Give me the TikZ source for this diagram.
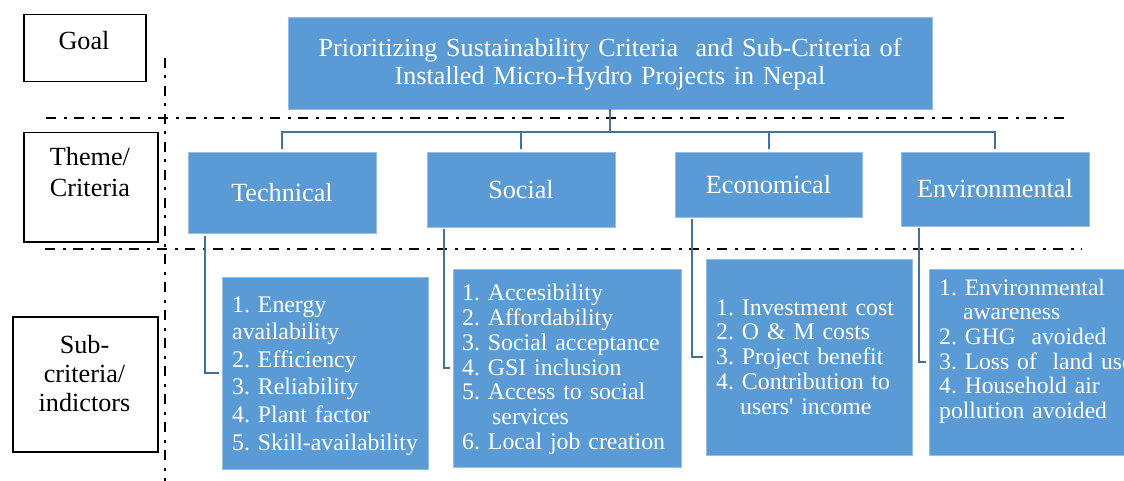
\documentclass[tikz,border=0pt]{standalone}
\usepackage{fontspec}
\setmainfont{Liberation Serif}
\frenchspacing
\definecolor{boxblue}{RGB}{91,155,213}
\definecolor{boxedge}{RGB}{150,190,228}
\definecolor{connblue}{RGB}{65,113,156}
\begin{document}
\begin{tikzpicture}[x=1pt,y=-1pt,
  bluebox/.style={rectangle, fill=boxblue, draw=boxedge, line width=0.8pt, inner sep=0pt, outer sep=0pt, anchor=north west, text=white},
  crit/.style={bluebox, font=\fontsize{26.2}{28}\selectfont},
  lblbox/.style={rectangle, draw=black, line width=1.5pt, inner sep=0pt, anchor=north west},
  lbltxt/.style={anchor=base, text width=140pt, align=center, inner sep=0pt},
  subtxt/.style={anchor=base west, text width=260pt, align=left, inner sep=0pt, text=white},
  conn/.style={draw=connblue, line width=2pt},
  sepline/.style={draw=black, line width=2.7pt, dash pattern=on 10pt off 7.5pt on 3pt off 7.5pt}]
\fill[white] (0,0) rectangle (1124,481);
\useasboundingbox (0,0) rectangle (1124,481);
% separator lines
\draw[sepline] (46,118) -- (1066,118);
\draw[sepline] (45,249) -- (1082,249);
\draw[sepline] (165,58) -- (165,481);
% level labels
\node[lblbox, minimum width=122pt, minimum height=67pt] (goal) at (23,14) {};
\node[lbltxt, font=\fontsize{26.2}{29}\selectfont] (goaltxt) at (84,50) {Goal};
\node[lblbox, minimum width=134pt, minimum height=109pt] (theme) at (23,132) {};
\node[lbltxt, font=\fontsize{26.2}{31}\selectfont] (themetxt) at (90,166) {Theme/\\Criteria};
\node[lblbox, minimum width=145pt, minimum height=135pt] (subl) at (12,316) {};
\node[lbltxt, font=\fontsize{26.2}{29.3}\selectfont] (subltxt) at (84.5,353) {Sub-\\criteria/\\indictors};
% goal box
\node[bluebox, minimum width=644pt, minimum height=92pt] (title) at (288,17) {};
\node[anchor=base, text width=640pt, align=center, inner sep=0pt, text=white, font=\fontsize{26.1}{28}\selectfont] (titletxt) at (610,57)
  {Prioritizing Sustainability Criteria\ \ and Sub-Criteria of\\Installed Micro-Hydro Projects in Nepal};
% criteria
\node[crit, minimum width=188pt, minimum height=81pt] (tech) at (188,152) {Technical};
\node[crit, minimum width=188pt, minimum height=75pt] (soc) at (427,152) {Social};
\node[crit, minimum width=187pt, minimum height=65pt] (econ) at (675,152) {Economical};
\node[crit, minimum width=188pt, minimum height=74pt] (env) at (901,152) {Environmental};
% sub-criteria boxes
\node[bluebox, minimum width=206pt, minimum height=192pt] (tsub) at (222,277) {};
\node[bluebox, minimum width=228pt, minimum height=198pt] (ssub) at (453,269) {};
\node[bluebox, minimum width=206pt, minimum height=196pt] (esub) at (706,259) {};
\node[bluebox, minimum width=200pt, minimum height=186pt] (envsub) at (929,269) {};
\node[subtxt, font=\fontsize{23.8}{27.6}\selectfont] (ttxt) at (232,312)
  {1. Energy\\availability\\2. Efficiency\\3. Reliability\\4. Plant factor\\5. Skill-availability};
\node[subtxt, font=\fontsize{23.8}{24.8}\selectfont] (stxt) at (462,300.7)
  {1. Accesibility\\2. Affordability\\3. Social acceptance\\4. GSI inclusion\\5. Access to social\\\hspace*{30pt}services\\6. Local job creation};
\node[subtxt, font=\fontsize{23.8}{24.8}\selectfont] (etxt) at (716,315)
  {1. Investment cost\\2. O \& M costs\\3. Project benefit\\4. Contribution to\\\hspace*{24pt}users\textquotesingle\ income};
\node[subtxt, font=\fontsize{23.6}{24.7}\selectfont] (envtxt) at (939,295)
  {1. Environmental\\\hspace*{24pt}awareness\\2. GHG\ \ avoided\\3. Loss of\ \ land use\\4. Household air\\pollution avoided};
% connectors
\coordinate (bus) at (610,132);
\draw[conn] (title.south) -- (bus);
\draw[conn] ([yshift=3pt]tech.north) |- (bus) -| ([yshift=3pt]env.north);
\draw[conn] ([yshift=3pt]soc.north) -- (soc.north |- bus);
\draw[conn] ([yshift=3pt]econ.north) -- (econ.north |- bus);
\draw[conn] ([xshift=17pt,yshift=-3pt]tech.south west) |- ([xshift=-3pt]tsub.west);
\draw[conn] ([xshift=17pt,yshift=-2pt]soc.south west) |- ([xshift=-3pt]ssub.west);
\draw[conn] ([xshift=17pt,yshift=-2pt]econ.south west) |- ([xshift=-3pt]esub.west);
\draw[conn] ([xshift=18pt,yshift=-2pt]env.south west) |- ([xshift=-3pt]envsub.west);
\end{tikzpicture}
\end{document}
